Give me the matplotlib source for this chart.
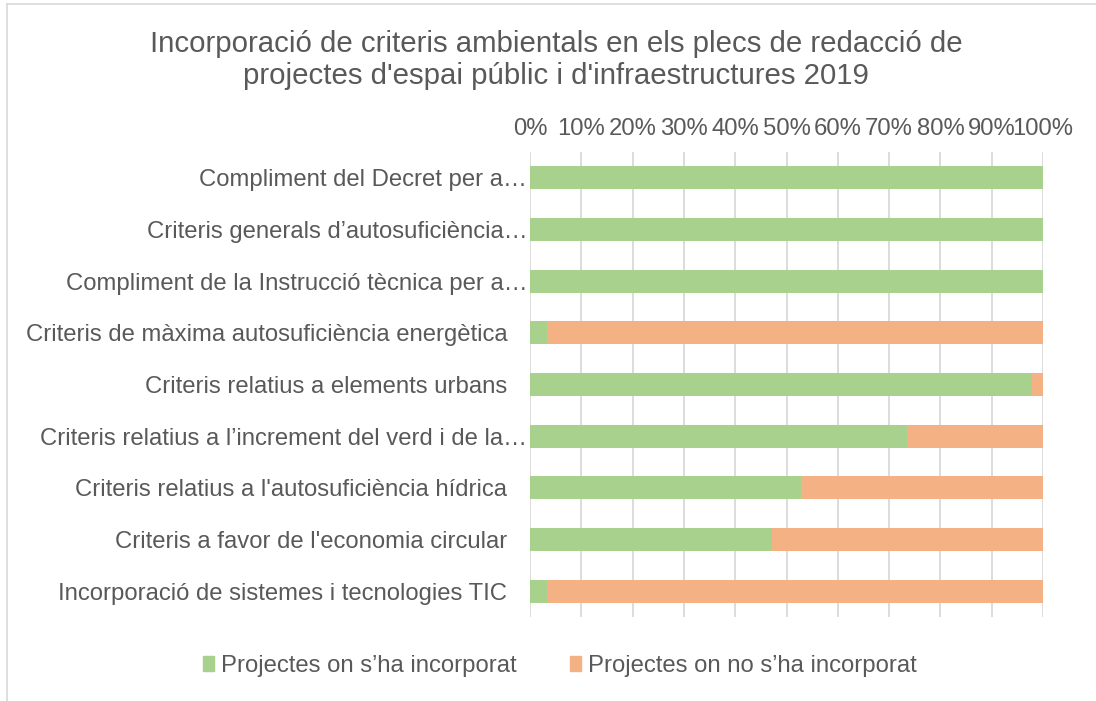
import matplotlib
matplotlib.use("Agg")
import matplotlib.pyplot as plt
import matplotlib.transforms as mtransforms
from matplotlib.lines import Line2D
from matplotlib.patches import Patch

plt.rcParams['font.family'] = ['Liberation Sans', 'DejaVu Sans']

categories = [
    "Compliment del Decret per a…",
    "Criteris generals d’autosuficiència…",
    "Compliment de la Instrucció tècnica per a…",
    "Criteris de màxima autosuficiència energètica",
    "Criteris relatius a elements urbans",
    "Criteris relatius a l’increment del verd i de la…",
    "Criteris relatius a l'autosuficiència hídrica",
    "Criteris a favor de l'economia circular",
    "Incorporació de sistemes i tecnologies TIC",
]
incorporat = [100, 100, 100, 3.4, 97.8, 73.5, 52.8, 47.2, 3.3]
no_incorporat = [0, 0, 0, 96.6, 2.2, 26.5, 47.2, 52.8, 96.7]
series_names = ["Projectes on s’ha incorporat", "Projectes on no s’ha incorporat"]
title = "Incorporació de criteris ambientals en els plecs de redacció de\nprojectes d'espai públic i d'infraestructures 2019"

green = "#A9D18E"
orange = "#F4B183"
text_col = "#595959"
grid_col = "#D9D9D9"
FS = 17.2

W, H = 1096, 701
fig = plt.figure(figsize=(W / 100, H / 100), dpi=100)
ax = fig.add_axes([530 / W, 1 - 617 / H, (1043 - 530) / W, (617 - 152) / H])

y = list(range(len(categories)))
ax.barh(y, incorporat, height=0.45, color=green, label=series_names[0], zorder=3)
ax.barh(y, no_incorporat, left=incorporat, height=0.45, color=orange, label=series_names[1], zorder=3)

ax.set_xlim(0, 100)
ax.set_ylim(len(categories) - 0.5, -0.5)
ax.set_yticks(y)
ax.set_yticklabels(categories, fontsize=FS, color=text_col)
ax.set_xticks(range(0, 101, 10))
ax.set_xticklabels([f"{v}%" for v in range(0, 101, 10)], fontsize=FS, color=text_col)
ax.xaxis.tick_top()
ax.tick_params(axis='x', length=0, pad=8.5)
ax.tick_params(axis='y', length=0, pad=2)
ax.grid(axis='x', color=grid_col, linewidth=1.3, zorder=0)
for s in ax.spines.values():
    s.set_visible(False)

# full (non-truncated) labels sit further from the axis, as in the original
shift = mtransforms.ScaledTranslation(-20 / 100, 0, fig.dpi_scale_trans)
for lab in ax.get_yticklabels():
    if not lab.get_text().endswith("…"):
        lab.set_transform(lab.get_transform() + shift)

fig.text(556 / W, 1 - 60 / H, title, ha='center', va='center', fontsize=21.2,
         color=text_col, linespacing=1.2)

handles = [Patch(color=green), Patch(color=orange)]
fig.legend(handles, series_names, loc='center', bbox_to_anchor=(560 / W, 1 - 666 / H),
           ncol=2, frameon=False, fontsize=FS, labelcolor=text_col,
           handlelength=0.45, handleheight=0.6, handletextpad=0.3, columnspacing=2.25)

# chart border (top and left edges visible)
fig.add_artist(Line2D([7 / W, 7 / W], [0, 1 - 4 / H], transform=fig.transFigure,
                      color=grid_col, linewidth=1.2))
fig.add_artist(Line2D([7 / W, 1], [1 - 4 / H, 1 - 4 / H], transform=fig.transFigure,
                      color=grid_col, linewidth=1.2))

fig.savefig("out.png", dpi=100, facecolor="white")
